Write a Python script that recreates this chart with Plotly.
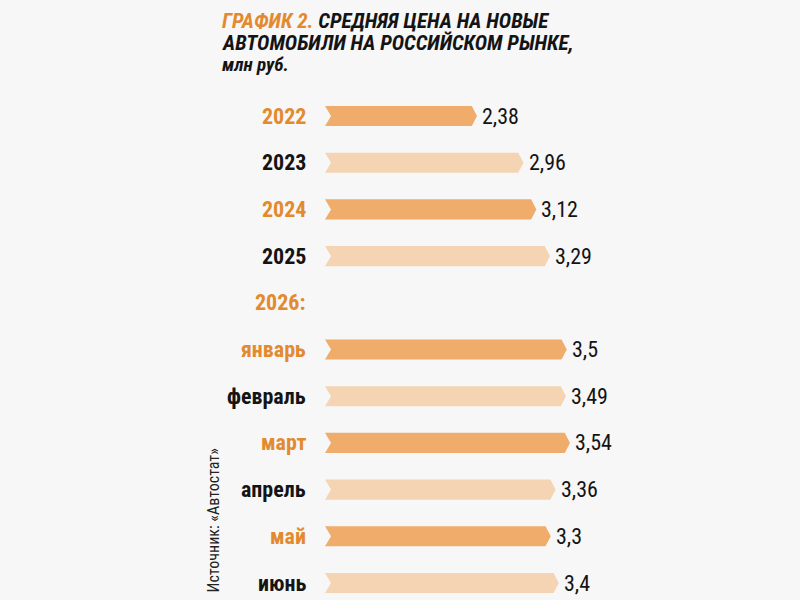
import plotly.graph_objects as go

# данные графика
labels = ['2022', '2023', '2024', '2025', '2026:',
          'январь', 'февраль', 'март', 'апрель', 'май', 'июнь']
values = [2.38, 2.96, 3.12, 3.29, None, 3.5, 3.49, 3.54, 3.36, 3.3, 3.4]
highlight = [True, False, True, False, True, True, False, True, False, True, False]

title_prefix = 'ГРАФИК 2.'
title_lines = ['СРЕДНЯЯ ЦЕНА НА НОВЫЕ', 'АВТОМОБИЛИ НА РОССИЙСКОМ РЫНКЕ,']
title_units = 'млн руб.'
source = 'Источник: «Автостат»'

# оформление
BG = '#F7F7F7'
ORANGE = '#E38A2E'
BLACK = '#141414'
BAR_DARK = '#F0AC6B'
BAR_LIGHT = '#F5D4B4'
FONT = 'Roboto Condensed, Roboto, sans-serif'

X0 = 0.485          # начало полос
HALF_H = 0.215      # половина высоты полосы (в строках)
TIP = 0.065         # глубина стрелки справа
NOTCH = 0.075       # глубина выреза слева

fig = go.Figure()

# полосы-стрелки
for i, v in enumerate(values):
    if v is None:
        continue
    xs = [X0, v - TIP, v, v - TIP, X0, X0 + NOTCH, X0]
    ys = [i - HALF_H, i - HALF_H, i, i + HALF_H, i + HALF_H, i, i - HALF_H]
    fig.add_trace(go.Scatter(
        x=xs, y=ys, mode='lines', fill='toself',
        fillcolor=BAR_DARK if highlight[i] else BAR_LIGHT,
        line=dict(width=0), hoverinfo='skip', showlegend=False
    ))

# подписи категорий
for i, lab in enumerate(labels):
    fig.add_annotation(
        x=308 / 800, xref='paper', y=i, yref='y', text=f'<b>{lab}</b>',
        xanchor='right', yanchor='middle', showarrow=False,
        font=dict(family=FONT, size=22, color=ORANGE if highlight[i] else BLACK)
    )

# значения
for i, v in enumerate(values):
    if v is None:
        continue
    fig.add_annotation(
        x=v, y=i, text=f'{v:g}'.replace('.', ','),
        xanchor='left', yanchor='middle', xshift=3, showarrow=False,
        font=dict(family=FONT, size=22, color=BLACK)
    )

# заголовок
fig.add_annotation(
    x=220 / 800, y=1 - 21 / 600, xref='paper', yref='paper',
    xanchor='left', yanchor='middle', showarrow=False,
    text=f'<b><i><span style="color:{ORANGE}">{title_prefix}</span> {title_lines[0]}</i></b>',
    font=dict(family=FONT, size=21, color=BLACK)
)
fig.add_annotation(
    x=220 / 800, y=1 - 43 / 600, xref='paper', yref='paper',
    xanchor='left', yanchor='middle', showarrow=False,
    text=f'<b><i>{title_lines[1]}</i></b>',
    font=dict(family=FONT, size=21, color=BLACK)
)
fig.add_annotation(
    x=220 / 800, y=1 - 64 / 600, xref='paper', yref='paper',
    xanchor='left', yanchor='middle', showarrow=False,
    text=f'<b><i>{title_units}</i></b>',
    font=dict(family=FONT, size=19, color=BLACK)
)

# источник
fig.add_annotation(
    x=213 / 800, y=5 / 600, xref='paper', yref='paper',
    xanchor='center', yanchor='bottom', textangle=-90, showarrow=False,
    text=source, font=dict(family=FONT, size=16, color='#222222')
)

fig.update_layout(
    width=800, height=600,
    margin=dict(l=0, r=0, t=0, b=0),
    paper_bgcolor=BG, plot_bgcolor=BG,
    showlegend=False,
    xaxis=dict(range=[X0 - 325 / 80.2, X0 + 475 / 80.2], visible=False, fixedrange=True),
    yaxis=dict(range=[(600 - 116) / 46.7, -116 / 46.7], visible=False, fixedrange=True),
)

fig.write_html('out.html', config={'displayModeBar': False},
               post_script="document.body.style.margin='0';")
